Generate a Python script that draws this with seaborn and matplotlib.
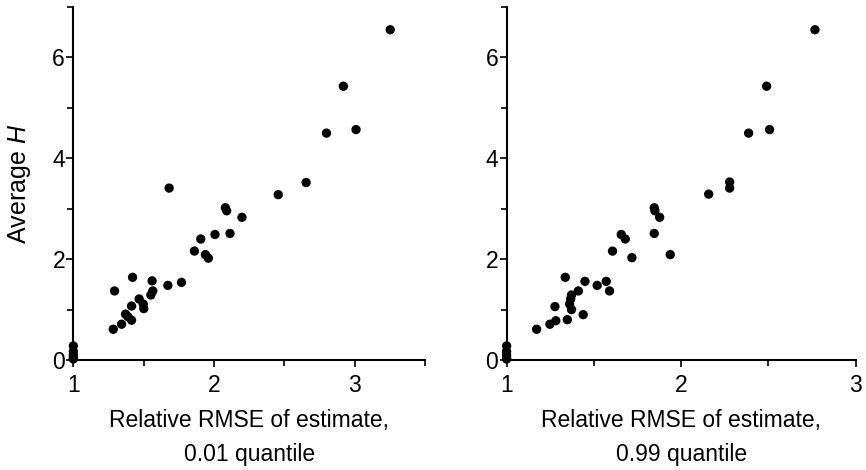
import numpy as np
import pandas as pd
import seaborn as sns
import matplotlib.pyplot as plt
from matplotlib.ticker import MultipleLocator

# relative RMSE of the 0.01 quantile estimate vs average H
rmse_low = [1.0, 1.0, 1.0, 1.0, 1.0,
            1.284, 1.343, 1.371, 1.388, 1.414, 1.414, 1.421, 1.293,
            1.468, 1.497, 1.501, 1.551, 1.565, 1.56, 1.672, 1.769,
            1.861, 1.906, 1.939, 1.960, 2.007, 2.114, 2.081, 2.09,
            2.199, 1.681, 2.457, 2.655, 2.80, 3.01, 2.92, 3.253]
h_low = [0.28, 0.17, 0.10, 0.05, 0.02,
         0.61, 0.71, 0.91, 0.86, 0.79, 1.07, 1.64, 1.37,
         1.21, 1.11, 1.02, 1.29, 1.37, 1.57, 1.48, 1.54,
         2.16, 2.40, 2.09, 2.02, 2.49, 2.51, 3.02, 2.96,
         2.83, 3.41, 3.28, 3.52, 4.50, 4.57, 5.43, 6.55]

# relative RMSE of the 0.99 quantile estimate vs average H
rmse_high = [1.0, 1.0, 1.0, 1.0, 1.0,
             1.172, 1.248, 1.282, 1.348, 1.439, 1.372, 1.277, 1.361,
             1.367, 1.372, 1.411, 1.590, 1.519, 1.571, 1.449, 1.336,
             1.938, 1.718, 1.607, 1.68, 1.657, 1.846, 1.877, 1.85,
             1.846, 2.158, 2.278, 2.278, 2.387, 2.507, 2.49, 2.767]
h_high = [0.28, 0.17, 0.10, 0.05, 0.02,
          0.61, 0.71, 0.78, 0.80, 0.90, 1.00, 1.06, 1.11,
          1.21, 1.29, 1.37, 1.37, 1.48, 1.56, 1.56, 1.64,
          2.09, 2.03, 2.16, 2.40, 2.49, 2.51, 2.83, 2.96,
          3.02, 3.29, 3.41, 3.53, 4.50, 4.57, 5.43, 6.55]

sns.set_style("ticks")
plt.rcParams['font.family'] = ['Liberation Sans', 'DejaVu Sans']
plt.rcParams['mathtext.fontset'] = 'custom'
plt.rcParams['mathtext.it'] = 'Liberation Sans:italic'
plt.rcParams['mathtext.rm'] = 'Liberation Sans'
plt.rcParams['text.color'] = 'black'
plt.rcParams['axes.labelcolor'] = 'black'

fig = plt.figure(figsize=(8.66, 4.7), dpi=100)
ax1 = fig.add_axes([0.0847, 0.234, 0.406, 0.751])
ax2 = fig.add_axes([0.585, 0.234, 0.403, 0.751])

panels = [
    (ax1, rmse_low, h_low, 3.5, "Relative RMSE of estimate,\n0.01 quantile"),
    (ax2, rmse_high, h_high, 3.0, "Relative RMSE of estimate,\n0.99 quantile"),
]

for ax, xs, ys, xmax, xlabel in panels:
    df = pd.DataFrame({'rmse': xs, 'H': ys})
    sns.scatterplot(data=df, x='rmse', y='H', ax=ax, color='black',
                    s=45, edgecolor='none', clip_on=False, zorder=3)
    ax.set_xlim(1, xmax)
    ax.set_ylim(0, 7)
    ax.xaxis.set_major_locator(MultipleLocator(1))
    ax.xaxis.set_minor_locator(MultipleLocator(0.5))
    ax.yaxis.set_major_locator(MultipleLocator(2))
    ax.yaxis.set_minor_locator(MultipleLocator(1))
    ax.tick_params(which='major', length=5, width=1.2, labelsize=16.5,
                   colors='black', labelcolor='black')
    ax.tick_params(which='minor', length=4, width=1.2, colors='black')
    ax.tick_params(axis='x', pad=5)
    ax.tick_params(axis='y', pad=1)
    for side in ['left', 'bottom']:
        ax.spines[side].set_linewidth(1.5)
        ax.spines[side].set_color('black')
    sns.despine(ax=ax)
    ax.set_xlabel(xlabel, fontsize=16.5, linespacing=1.6, labelpad=9, color='black')
    ax.set_ylabel("")

ax1.set_ylabel("Average $H$", fontsize=18, labelpad=14, color='black')

plt.savefig("out.png", dpi=100)
